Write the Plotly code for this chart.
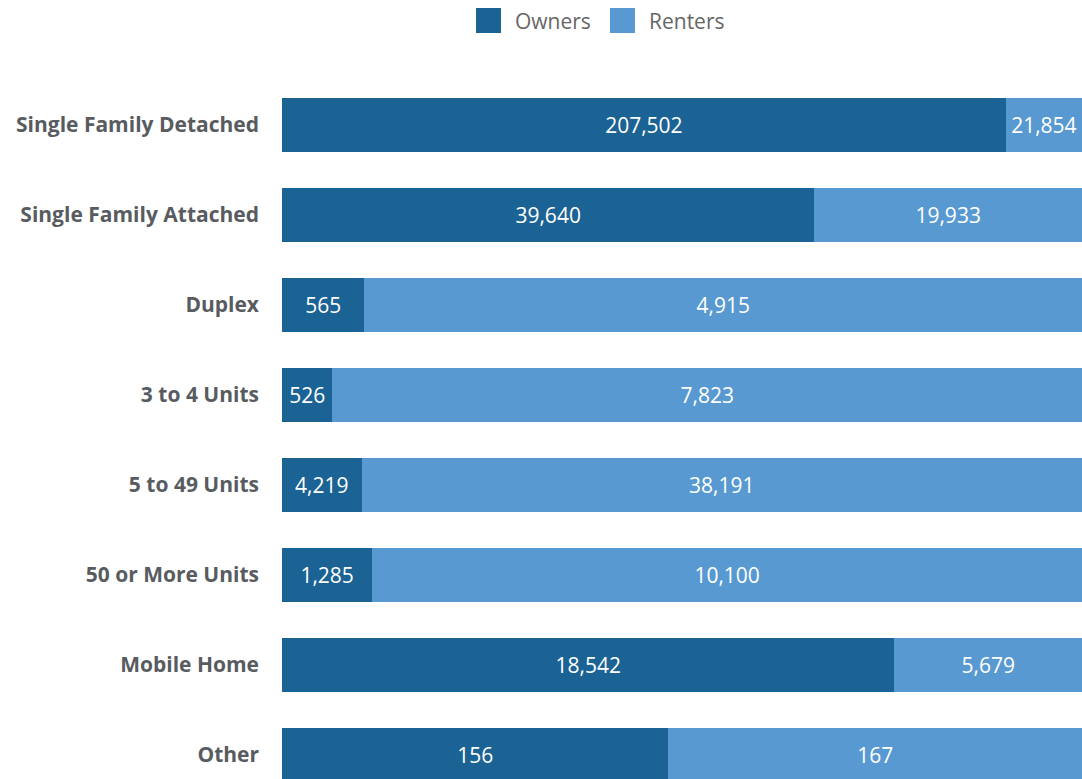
import plotly.graph_objects as go

# Housing units by structure type and tenure
categories = [
    "Single Family Detached",
    "Single Family Attached",
    "Duplex",
    "3 to 4 Units",
    "5 to 49 Units",
    "50 or More Units",
    "Mobile Home",
    "Other",
]
owners = [207502, 39640, 565, 526, 4219, 1285, 18542, 156]
renters = [21854, 19933, 4915, 7823, 38191, 10100, 5679, 167]

OWNER_COLOR = "#1B6394"
RENTER_COLOR = "#5899D1"
FONT = "Open Sans"

W, H = 1082, 779
M_L, M_R, M_T, M_B = 282, 0, 80, 0
BAND = 90  # pixels per category row

totals = [o + r for o, r in zip(owners, renters)]
owner_share = [100 * o / t for o, t in zip(owners, totals)]
renter_share = [100 * r / t for r, t in zip(renters, totals)]

fig = go.Figure()
for name, share, raw, color in [
    ("Owners", owner_share, owners, OWNER_COLOR),
    ("Renters", renter_share, renters, RENTER_COLOR),
]:
    fig.add_trace(go.Bar(
        name=name,
        y=categories,
        x=share,
        customdata=raw,
        orientation="h",
        marker=dict(color=color, line=dict(width=0)),
        texttemplate="%{customdata:,}",
        textposition="inside",
        insidetextanchor="middle",
        textangle=0,
        insidetextfont=dict(family=FONT, size=21, color="white"),
        hovertemplate="%{y}<br>" + name + ": %{customdata:,}<extra></extra>",
        showlegend=False,
    ))

plot_h = H - M_T - M_B
span = plot_h / BAND


def px_x(px):
    return (px - M_L) / (W - M_L - M_R)


def px_y(py):
    return 1 + (M_T - py) / plot_h


# Legend drawn as swatches and labels above the plot
shapes = []
annotations = []
for label, color, sx, tx in [
    ("Owners", OWNER_COLOR, 476, 513),
    ("Renters", RENTER_COLOR, 610, 647),
]:
    shapes.append(dict(
        type="rect", xref="paper", yref="paper",
        x0=px_x(sx), x1=px_x(sx + 25), y0=px_y(33), y1=px_y(8),
        fillcolor=color, line=dict(width=0),
    ))
    annotations.append(dict(
        text=label, xref="paper", yref="paper",
        x=px_x(tx), y=px_y(21), xanchor="left", yanchor="middle",
        showarrow=False, font=dict(family=FONT, size=21, color="#666666"),
    ))

fig.update_layout(
    barmode="stack",
    bargap=0.41,
    width=W,
    height=H,
    margin=dict(l=M_L, r=M_R, t=M_T, b=M_B),
    paper_bgcolor="white",
    plot_bgcolor="white",
    font=dict(family=FONT),
    shapes=shapes,
    annotations=annotations,
    xaxis=dict(range=[0, 100], visible=False, fixedrange=True),
    yaxis=dict(
        categoryorder="array",
        categoryarray=categories,
        range=[-0.5 + span, -0.5],
        showgrid=False,
        zeroline=False,
        showline=False,
        ticks="",
        ticklabelstandoff=22,
        tickfont=dict(family=FONT, size=21, color="#585C60", weight="bold"),
        fixedrange=True,
    ),
)

fig.write_html("out.html", config={"displayModeBar": False})
